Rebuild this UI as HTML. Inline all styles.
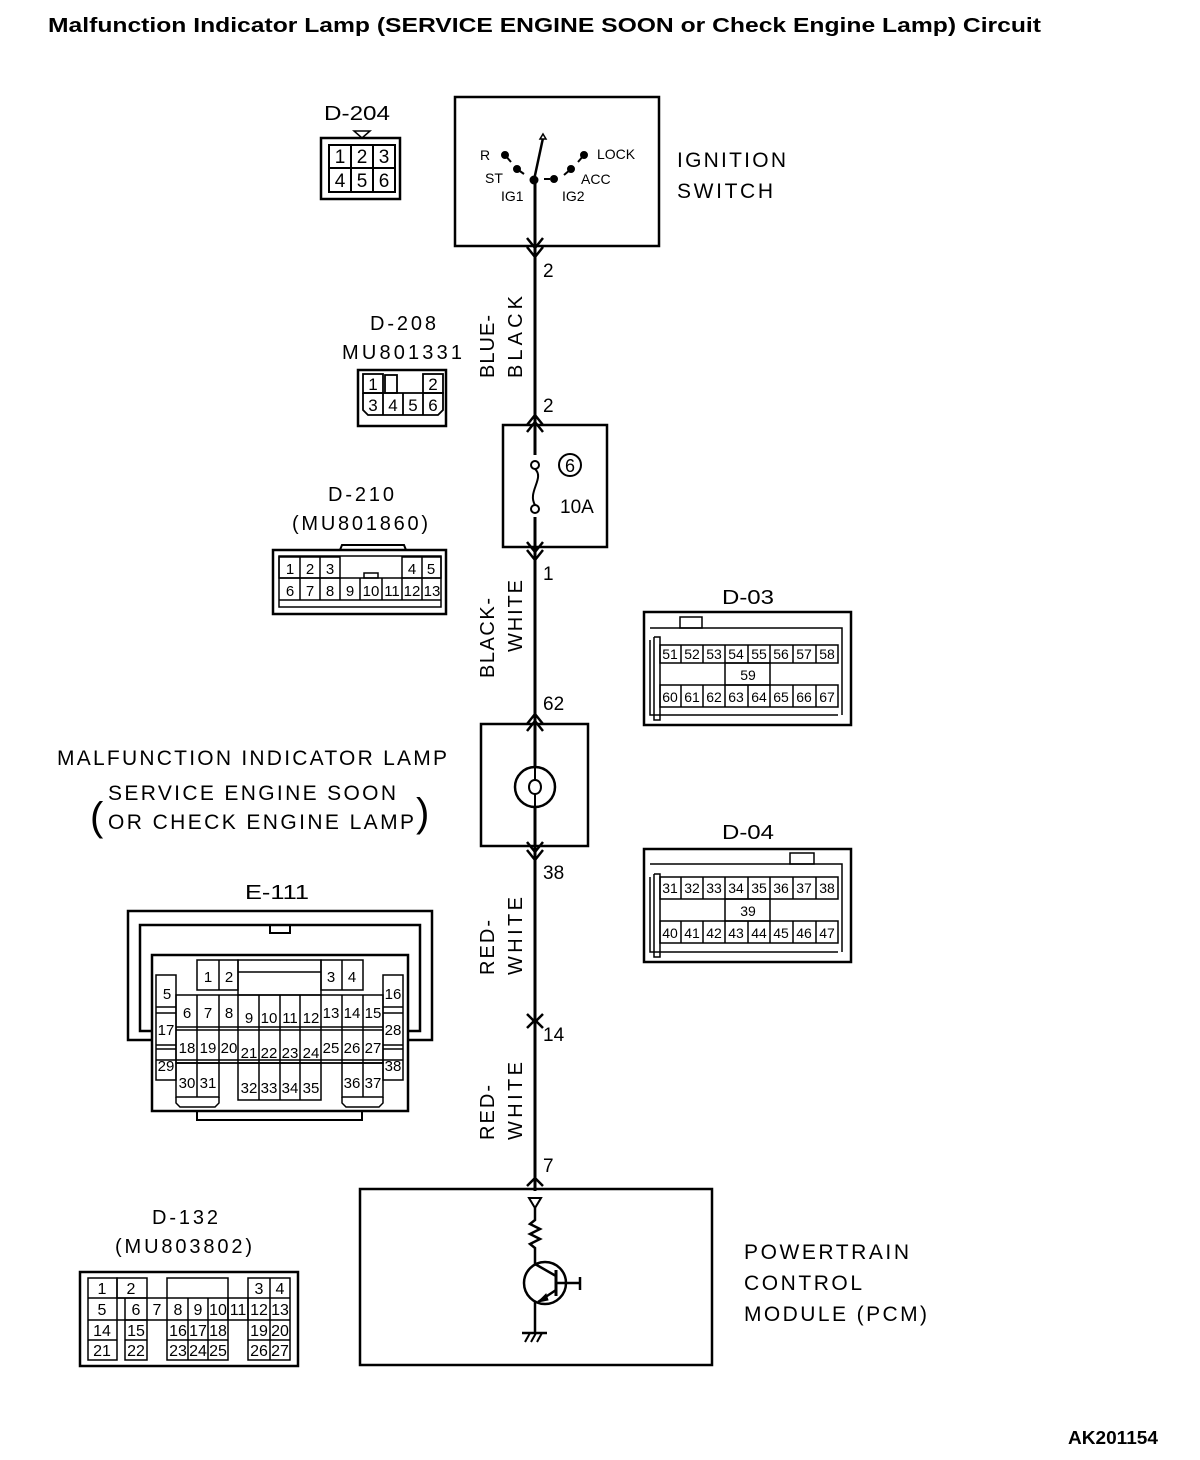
<!DOCTYPE html>
<html><head><meta charset="utf-8"><style>
html,body{margin:0;padding:0;background:#fff}
svg{display:block}
text{font-family:"Liberation Sans",Arial,sans-serif;fill:#000}
</style></head><body>
<svg width="1200" height="1460" viewBox="0 0 1200 1460" xmlns="http://www.w3.org/2000/svg">
<g fill="none" stroke="#000">
<text x="48" y="32" font-size="20" font-weight="bold" stroke="none" textLength="993" lengthAdjust="spacingAndGlyphs">Malfunction Indicator Lamp (SERVICE ENGINE SOON or Check Engine Lamp) Circuit</text>
<text x="1068" y="1444" font-size="18" font-weight="bold" stroke="none" textLength="90" lengthAdjust="spacingAndGlyphs">AK201154</text>

<!-- main wire -->
<line x1="535" y1="180" x2="535" y2="1200" stroke-width="3"/>
<g stroke-width="2.5">
<polyline points="527,238 535,248 543,238"/><polyline points="527,247 535,257 543,247"/>
<polyline points="527,425 535,415 543,425"/><polyline points="527,432 535,422 543,432"/>
<polyline points="527,542 535,552 543,542"/><polyline points="527,550 535,560 543,550"/>
<polyline points="527,724 535,714 543,724"/><polyline points="527,731 535,721 543,731"/>
<polyline points="527,842 535,852 543,842"/><polyline points="527,850 535,860 543,850"/>
<polyline points="527,1014 535,1022 543,1014"/><polyline points="527,1028 535,1020 543,1028"/>
<polyline points="527,1186 535,1178 543,1186"/>
</g>
<g stroke="none" font-size="19">
<text x="543" y="277">2</text><text x="543" y="412">2</text><text x="543" y="580">1</text>
<text x="543" y="710">62</text><text x="543" y="879">38</text><text x="543" y="1041">14</text><text x="543" y="1172">7</text>
</g>
<g stroke="none" font-size="20" lengthAdjust="spacingAndGlyphs">
<text transform="translate(494,378) rotate(-90)" textLength="63">BLUE-</text>
<text transform="translate(522,378) rotate(-90)" textLength="82">BLACK</text>
<text transform="translate(494,678) rotate(-90)" textLength="80">BLACK-</text>
<text transform="translate(522,652) rotate(-90)" textLength="72">WHITE</text>
<text transform="translate(494,975) rotate(-90)" textLength="55">RED-</text>
<text transform="translate(522,975) rotate(-90)" textLength="78">WHITE</text>
<text transform="translate(494,1140) rotate(-90)" textLength="55">RED-</text>
<text transform="translate(522,1140) rotate(-90)" textLength="78">WHITE</text>
</g>

<!-- Ignition switch -->
<rect x="455" y="97" width="204" height="149" stroke-width="2.5"/>
<line x1="534" y1="180" x2="543" y2="138" stroke-width="2.5"/>
<polygon points="543,134 546,139 540,139" fill="#fff" stroke-width="1.5"/>
<circle cx="534" cy="180" r="4" fill="#000"/>
<circle cx="505" cy="155" r="3.5" fill="#000"/><line x1="505" y1="155" x2="511" y2="162" stroke-width="2"/>
<circle cx="517" cy="169" r="3.5" fill="#000"/><line x1="517" y1="169" x2="524" y2="174" stroke-width="2"/>
<circle cx="554" cy="179" r="3.5" fill="#000"/><line x1="544" y1="179" x2="550" y2="179" stroke-width="2"/>
<circle cx="571" cy="169" r="3.5" fill="#000"/><line x1="571" y1="169" x2="564" y2="175" stroke-width="2"/>
<circle cx="584" cy="155" r="3.5" fill="#000"/><line x1="584" y1="155" x2="578" y2="162" stroke-width="2"/>
<g stroke="none" font-size="14">
<text x="480" y="160">R</text><text x="485" y="183">ST</text><text x="501" y="201">IG1</text>
<text x="562" y="201">IG2</text><text x="581" y="184">ACC</text><text x="597" y="159">LOCK</text>
</g>
<g stroke="none" font-size="21" lengthAdjust="spacingAndGlyphs"><text x="677" y="167" textLength="109">IGNITION</text><text x="677" y="198" textLength="96">SWITCH</text></g>

<!-- D-204 -->
<text x="324" y="120" font-size="20" stroke="none" textLength="66" lengthAdjust="spacingAndGlyphs">D-204</text>
<polygon points="354,131 370,131 362,138" stroke-width="1.5"/>
<rect x="321" y="138" width="79" height="61" stroke-width="2.5"/>
<rect x="329" y="145" width="66" height="47" stroke-width="2"/>
<line x1="329" y1="168" x2="395" y2="168" stroke-width="2"/>
<line x1="351" y1="145" x2="351" y2="192" stroke-width="2"/><line x1="373" y1="145" x2="373" y2="192" stroke-width="2"/>
<g stroke="none" font-size="19" text-anchor="middle">
<text x="340" y="163">1</text><text x="362" y="163">2</text><text x="384" y="163">3</text>
<text x="340" y="187">4</text><text x="362" y="187">5</text><text x="384" y="187">6</text></g>

<!-- D-208 -->
<g stroke="none" font-size="20" lengthAdjust="spacingAndGlyphs"><text x="370" y="330" textLength="66">D-208</text><text x="342" y="359" textLength="120">MU801331</text></g>
<rect x="358" y="370" width="88" height="56" stroke-width="2.5"/>
<g stroke-width="1.8">
<rect x="363" y="374" width="20" height="19"/><rect x="385" y="375" width="12" height="18"/><rect x="423" y="374" width="20" height="19"/>
<polyline points="363,393 363,410 368,415 438,415 443,410 443,393 363,393"/>
<line x1="383" y1="393" x2="383" y2="415"/><line x1="403" y1="393" x2="403" y2="415"/><line x1="423" y1="393" x2="423" y2="415"/>
</g>
<g stroke="none" font-size="17" text-anchor="middle">
<text x="373" y="390">1</text><text x="433" y="390">2</text>
<text x="373" y="411">3</text><text x="393" y="411">4</text><text x="413" y="411">5</text><text x="433" y="411">6</text></g>

<!-- D-210 -->
<g stroke="none" font-size="20" lengthAdjust="spacingAndGlyphs"><text x="328" y="501" textLength="66">D-210</text><text x="292" y="530" textLength="136">(MU801860)</text></g>
<rect x="273" y="550" width="173" height="64" stroke-width="2.5"/>
<polyline points="340,550 342,545 404,545 406,550" stroke-width="2"/>
<g stroke-width="1.5">
<rect x="279" y="556" width="162" height="51"/>
<rect x="279" y="557" width="61" height="21"/><line x1="300" y1="557" x2="300" y2="578"/><line x1="320" y1="557" x2="320" y2="578"/>
<rect x="402" y="557" width="39" height="21"/><line x1="422" y1="557" x2="422" y2="578"/>
<line x1="279" y1="578" x2="441" y2="578"/><line x1="279" y1="600" x2="441" y2="600"/>
<line x1="300" y1="578" x2="300" y2="600"/><line x1="320" y1="578" x2="320" y2="600"/><line x1="340" y1="578" x2="340" y2="600"/>
<line x1="360" y1="578" x2="360" y2="600"/><line x1="382" y1="578" x2="382" y2="600"/><line x1="402" y1="578" x2="402" y2="600"/><line x1="422" y1="578" x2="422" y2="600"/>
<rect x="364" y="573" width="14" height="5"/>
</g>
<g stroke="none" font-size="15" text-anchor="middle">
<text x="290" y="574">1</text><text x="310" y="574">2</text><text x="330" y="574">3</text><text x="412" y="574">4</text><text x="431" y="574">5</text>
<text x="290" y="596">6</text><text x="310" y="596">7</text><text x="330" y="596">8</text><text x="350" y="596">9</text>
<text x="371" y="596">10</text><text x="392" y="596">11</text><text x="412" y="596">12</text><text x="432" y="596">13</text></g>

<!-- Fuse -->
<rect x="503" y="425" width="104" height="122" stroke-width="2.5"/>
<rect x="525" y="455" width="20" height="62" fill="#fff" stroke="none"/>
<circle cx="535" cy="465" r="4" fill="#fff" stroke-width="2"/>
<circle cx="535" cy="509" r="4" fill="#fff" stroke-width="2"/>
<path d="M535,469 C545,478 527,492 535,505" stroke-width="2"/>
<circle cx="570" cy="465" r="11" stroke-width="2"/>
<text x="570" y="472" font-size="18" text-anchor="middle" stroke="none">6</text>
<text x="560" y="513" font-size="19" stroke="none">10A</text>

<!-- Lamp -->
<rect x="481" y="724" width="107" height="122" stroke-width="2.5"/>
<circle cx="535" cy="787" r="20" fill="#fff" stroke-width="2.5"/>
<path d="M535,767 L535,780 C527,780 527,794 535,794 C543,794 543,780 535,780 M535,794 L535,807" stroke-width="2"/>
<g stroke="none" font-size="21" lengthAdjust="spacingAndGlyphs">
<text x="57" y="765" textLength="390">MALFUNCTION INDICATOR LAMP</text>
<text x="108" y="800" textLength="288">SERVICE ENGINE SOON</text>
<text x="108" y="829" textLength="306">OR CHECK ENGINE LAMP</text></g>
<text x="90" y="830" font-size="40" stroke="none">(</text>
<text x="416" y="826" font-size="40" stroke="none">)</text>

<!-- D-03 -->
<text x="722" y="604" font-size="20" stroke="none" textLength="52" lengthAdjust="spacingAndGlyphs">D-03</text>
<rect x="644" y="612" width="207" height="113" stroke-width="2.5"/>
<rect x="680" y="617" width="22" height="11" stroke-width="1.5"/>
<g stroke-width="1.5">
<polyline points="650,640 650,715 838,715"/>
<polyline points="650,628 842,628 842,715"/>
<polyline points="654,637 660,637 660,720 654,720 654,637"/>
<rect x="660" y="645" width="178" height="18"/>
<rect x="660" y="685" width="178" height="22"/>
<rect x="725" y="663" width="45" height="22"/>
<line x1="681" y1="645" x2="681" y2="663"/><line x1="703" y1="645" x2="703" y2="663"/><line x1="725" y1="645" x2="725" y2="663"/><line x1="748" y1="645" x2="748" y2="663"/><line x1="770" y1="645" x2="770" y2="663"/><line x1="793" y1="645" x2="793" y2="663"/><line x1="816" y1="645" x2="816" y2="663"/>
<line x1="681" y1="685" x2="681" y2="707"/><line x1="703" y1="685" x2="703" y2="707"/><line x1="725" y1="685" x2="725" y2="707"/><line x1="748" y1="685" x2="748" y2="707"/><line x1="770" y1="685" x2="770" y2="707"/><line x1="793" y1="685" x2="793" y2="707"/><line x1="816" y1="685" x2="816" y2="707"/>
</g>
<g stroke="none" font-size="14" text-anchor="middle">
<text x="670" y="659">51</text><text x="692" y="659">52</text><text x="714" y="659">53</text><text x="736" y="659">54</text><text x="759" y="659">55</text><text x="781" y="659">56</text><text x="804" y="659">57</text><text x="827" y="659">58</text>
<text x="748" y="680">59</text>
<text x="670" y="702">60</text><text x="692" y="702">61</text><text x="714" y="702">62</text><text x="736" y="702">63</text><text x="759" y="702">64</text><text x="781" y="702">65</text><text x="804" y="702">66</text><text x="827" y="702">67</text></g>

<!-- D-04 -->
<text x="722" y="839" font-size="20" stroke="none" textLength="52" lengthAdjust="spacingAndGlyphs">D-04</text>
<rect x="644" y="849" width="207" height="113" stroke-width="2.5"/>
<rect x="790" y="853" width="24" height="11" stroke-width="1.5"/>
<g stroke-width="1.5">
<polyline points="650,877 650,952 838,952"/>
<polyline points="650,864 842,864 842,952"/>
<polyline points="654,874 660,874 660,957 654,957 654,874"/>
<rect x="660" y="877" width="178" height="22"/>
<rect x="660" y="921" width="178" height="22"/>
<rect x="725" y="899" width="45" height="22"/>
<line x1="681" y1="877" x2="681" y2="899"/><line x1="703" y1="877" x2="703" y2="899"/><line x1="725" y1="877" x2="725" y2="899"/><line x1="748" y1="877" x2="748" y2="899"/><line x1="770" y1="877" x2="770" y2="899"/><line x1="793" y1="877" x2="793" y2="899"/><line x1="816" y1="877" x2="816" y2="899"/>
<line x1="681" y1="921" x2="681" y2="943"/><line x1="703" y1="921" x2="703" y2="943"/><line x1="725" y1="921" x2="725" y2="943"/><line x1="748" y1="921" x2="748" y2="943"/><line x1="770" y1="921" x2="770" y2="943"/><line x1="793" y1="921" x2="793" y2="943"/><line x1="816" y1="921" x2="816" y2="943"/>
</g>
<g stroke="none" font-size="14" text-anchor="middle">
<text x="670" y="893">31</text><text x="692" y="893">32</text><text x="714" y="893">33</text><text x="736" y="893">34</text><text x="759" y="893">35</text><text x="781" y="893">36</text><text x="804" y="893">37</text><text x="827" y="893">38</text>
<text x="748" y="916">39</text>
<text x="670" y="938">40</text><text x="692" y="938">41</text><text x="714" y="938">42</text><text x="736" y="938">43</text><text x="759" y="938">44</text><text x="781" y="938">45</text><text x="804" y="938">46</text><text x="827" y="938">47</text></g>

<!-- E-111 -->
<text x="245" y="899" font-size="20" stroke="none" textLength="64" lengthAdjust="spacingAndGlyphs">E-111</text>
<polyline points="152,1040 128,1040 128,911 432,911 432,1040 408,1040" stroke-width="2.5"/>
<polyline points="152,1031 140,1031 140,925 420,925 420,1031 408,1031" stroke-width="2.5"/>
<rect x="270" y="925" width="20" height="8" stroke-width="2"/>
<rect x="152" y="955" width="256" height="156" stroke-width="2.5"/>
<rect x="197" y="1111" width="165" height="9" stroke-width="2"/>
<g stroke-width="1.5">
<rect x="197" y="960" width="41" height="30"/><line x1="219" y1="960" x2="219" y2="990"/>
<rect x="238" y="960" width="83" height="35"/><line x1="238" y1="972" x2="321" y2="972"/>
<rect x="321" y="960" width="42" height="30"/><line x1="342" y1="960" x2="342" y2="990"/>
<rect x="156" y="975" width="20" height="105"/>
<rect x="383" y="975" width="20" height="105"/>
<line x1="156" y1="1007" x2="176" y2="1007"/><line x1="156" y1="1013" x2="176" y2="1013"/>
<line x1="156" y1="1045" x2="176" y2="1045"/><line x1="156" y1="1049" x2="176" y2="1049"/>
<line x1="383" y1="1007" x2="403" y2="1007"/><line x1="383" y1="1013" x2="403" y2="1013"/>
<line x1="383" y1="1045" x2="403" y2="1045"/><line x1="383" y1="1049" x2="403" y2="1049"/>
<rect x="176" y="995" width="207" height="68"/>
<line x1="176" y1="1027" x2="383" y2="1027"/><line x1="176" y1="1030" x2="383" y2="1030"/>
<line x1="176" y1="1063" x2="383" y2="1063"/><line x1="156" y1="1060" x2="403" y2="1060"/>
<line x1="197" y1="995" x2="197" y2="1063"/><line x1="219" y1="995" x2="219" y2="1063"/><line x1="238" y1="995" x2="238" y2="1063"/>
<line x1="259" y1="995" x2="259" y2="1063"/><line x1="280" y1="995" x2="280" y2="1063"/><line x1="300" y1="995" x2="300" y2="1063"/>
<line x1="321" y1="995" x2="321" y2="1063"/><line x1="342" y1="995" x2="342" y2="1063"/><line x1="363" y1="995" x2="363" y2="1063"/>
<rect x="176" y="1063" width="43" height="34"/><line x1="197" y1="1063" x2="197" y2="1097"/>
<polyline points="176,1097 176,1103 180,1107 215,1107 219,1103 219,1097"/>
<rect x="238" y="1063" width="83" height="37"/><line x1="259" y1="1063" x2="259" y2="1100"/><line x1="280" y1="1063" x2="280" y2="1100"/><line x1="300" y1="1063" x2="300" y2="1100"/>
<rect x="342" y="1063" width="41" height="34"/><line x1="363" y1="1063" x2="363" y2="1097"/>
<polyline points="342,1097 342,1103 346,1107 379,1107 383,1103 383,1097"/>
</g>
<g stroke="none" font-size="15" text-anchor="middle">
<text x="208" y="982">1</text><text x="229" y="982">2</text><text x="331" y="982">3</text><text x="352" y="982">4</text>
<text x="167" y="999">5</text><text x="393" y="999">16</text>
<text x="187" y="1018">6</text><text x="208" y="1018">7</text><text x="229" y="1018">8</text>
<text x="249" y="1023">9</text><text x="269" y="1023">10</text><text x="290" y="1023">11</text><text x="311" y="1023">12</text>
<text x="331" y="1018">13</text><text x="352" y="1018">14</text><text x="373" y="1018">15</text>
<text x="166" y="1035">17</text><text x="393" y="1035">28</text>
<text x="187" y="1053">18</text><text x="208" y="1053">19</text><text x="229" y="1053">20</text>
<text x="249" y="1058">21</text><text x="269" y="1058">22</text><text x="290" y="1058">23</text><text x="311" y="1058">24</text>
<text x="331" y="1053">25</text><text x="352" y="1053">26</text><text x="373" y="1053">27</text>
<text x="166" y="1071">29</text><text x="393" y="1071">38</text>
<text x="187" y="1088">30</text><text x="208" y="1088">31</text>
<text x="249" y="1093">32</text><text x="269" y="1093">33</text><text x="290" y="1093">34</text><text x="311" y="1093">35</text>
<text x="352" y="1088">36</text><text x="373" y="1088">37</text></g>

<!-- D-132 -->
<g stroke="none" font-size="20" lengthAdjust="spacingAndGlyphs"><text x="152" y="1224" textLength="66">D-132</text><text x="115" y="1253" textLength="137">(MU803802)</text></g>
<rect x="80" y="1272" width="218" height="94" stroke-width="2.5"/>
<g stroke-width="1.5">
<rect x="88" y="1278" width="29" height="82"/><line x1="88" y1="1298" x2="117" y2="1298"/><line x1="88" y1="1320" x2="117" y2="1320"/><line x1="88" y1="1340" x2="117" y2="1340"/>
<rect x="117" y="1278" width="30" height="20"/>
<line x1="117" y1="1298" x2="290" y2="1298"/><line x1="117" y1="1320" x2="290" y2="1320"/>
<rect x="125" y="1320" width="22" height="40"/><line x1="125" y1="1340" x2="147" y2="1340"/><line x1="125" y1="1298" x2="125" y2="1320"/>
<rect x="167" y="1278" width="61" height="82"/><line x1="167" y1="1340" x2="228" y2="1340"/>
<line x1="147" y1="1298" x2="147" y2="1320"/><line x1="188" y1="1298" x2="188" y2="1360"/><line x1="208" y1="1298" x2="208" y2="1360"/><line x1="228" y1="1298" x2="228" y2="1320"/><line x1="248" y1="1298" x2="248" y2="1320"/>
<rect x="248" y="1278" width="42" height="82"/><line x1="270" y1="1278" x2="270" y2="1360"/><line x1="248" y1="1340" x2="290" y2="1340"/>
</g>
<g stroke="none" font-size="16" text-anchor="middle">
<text x="102" y="1294">1</text><text x="131" y="1294">2</text><text x="259" y="1294">3</text><text x="280" y="1294">4</text>
<text x="102" y="1315">5</text><text x="136" y="1315">6</text><text x="157" y="1315">7</text><text x="178" y="1315">8</text><text x="198" y="1315">9</text><text x="218" y="1315">10</text><text x="238" y="1315">11</text><text x="259" y="1315">12</text><text x="280" y="1315">13</text>
<text x="102" y="1336">14</text><text x="136" y="1336">15</text><text x="178" y="1336">16</text><text x="198" y="1336">17</text><text x="218" y="1336">18</text><text x="259" y="1336">19</text><text x="280" y="1336">20</text>
<text x="102" y="1356">21</text><text x="136" y="1356">22</text><text x="178" y="1356">23</text><text x="198" y="1356">24</text><text x="218" y="1356">25</text><text x="259" y="1356">26</text><text x="280" y="1356">27</text></g>

<!-- PCM -->
<rect x="360" y="1189" width="352" height="176" stroke-width="2.5"/>
<rect x="525" y="1191" width="20" height="150" fill="#fff" stroke="none"/>
<polygon points="529,1198 541,1198 535,1208" fill="#fff" stroke-width="2"/>
<polyline points="535,1208 535,1220 530,1224 540,1229 530,1234 540,1239 530,1244 535,1248 535,1264 556,1276" stroke-width="2.5"/>
<circle cx="545" cy="1283" r="21" stroke-width="2.5"/>
<line x1="556" y1="1270" x2="556" y2="1296" stroke-width="3"/>
<line x1="556" y1="1283" x2="580" y2="1283" stroke-width="2.5"/>
<line x1="580" y1="1277" x2="580" y2="1290" stroke-width="2.5"/>
<line x1="556" y1="1290" x2="538" y2="1302" stroke-width="2.5"/>
<polygon points="538,1302 546,1294 548,1300" fill="#000" stroke-width="1"/>
<line x1="535" y1="1302" x2="535" y2="1333" stroke-width="2.5"/>
<line x1="522" y1="1333" x2="547" y2="1333" stroke-width="2.5"/>
<line x1="525" y1="1342" x2="530" y2="1333" stroke-width="2"/><line x1="531" y1="1342" x2="536" y2="1333" stroke-width="2"/><line x1="537" y1="1342" x2="542" y2="1333" stroke-width="2"/>
<g stroke="none" font-size="21" lengthAdjust="spacingAndGlyphs"><text x="744" y="1259" textLength="165">POWERTRAIN</text><text x="744" y="1290" textLength="118">CONTROL</text><text x="744" y="1321" textLength="183">MODULE (PCM)</text></g>
</g>
</svg>
</body></html>
